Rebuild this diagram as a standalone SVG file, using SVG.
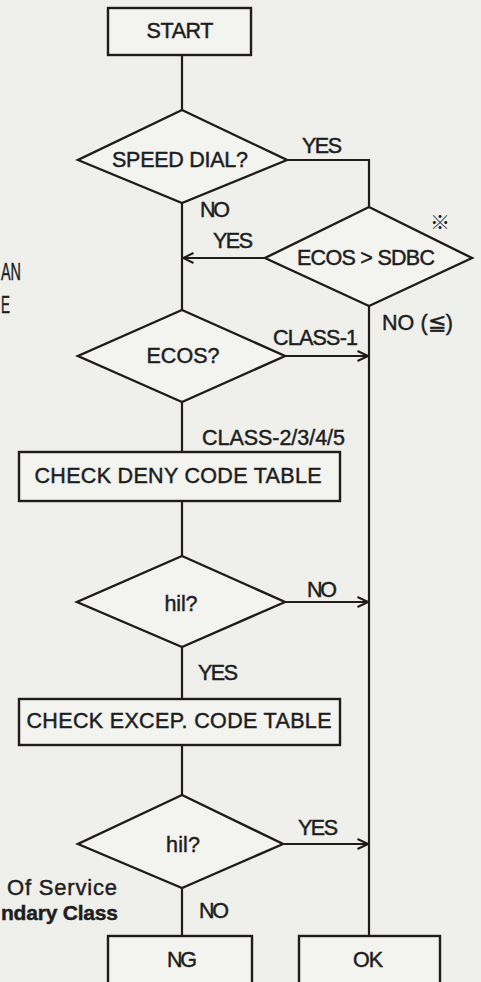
<svg xmlns="http://www.w3.org/2000/svg" width="481" height="982" viewBox="0 0 481 982">
<style>
.bg{fill:#efefeb}
.sh{fill:#f3f3f0;stroke:#1f1c1a;stroke-width:2.4;stroke-linejoin:miter}
.ln{fill:none;stroke:#1f1c1a;stroke-width:2.2}
.t{font-family:"Liberation Sans",Arial,sans-serif;font-size:21.5px;fill:#1e1e1e;stroke:#1e1e1e;stroke-width:0.45;text-anchor:middle}
.l{font-family:"Liberation Sans",Arial,sans-serif;font-size:21.5px;fill:#1e1e1e;stroke:#1e1e1e;stroke-width:0.45}
</style>
<defs>
<marker id="ah" viewBox="0 0 12 12" refX="11.5" refY="6" markerWidth="12" markerHeight="12" markerUnits="userSpaceOnUse" orient="auto">
<path d="M1,1 L11.5,6 L1,11" fill="none" stroke="#1f1c1a" stroke-width="2"/>
</marker>
</defs>
<rect class="bg" x="0" y="0" width="481" height="982"/>

<g id="connectors">
<path class="ln" d="M182,55 V110"/>
<path class="ln" d="M287,160 H369 V207"/>
<path class="ln" d="M265,258 H183" marker-end="url(#ah)"/>
<path class="ln" d="M182,203 V310"/>
<path class="ln" d="M369,306 V936"/>
<path class="ln" d="M285,356 H368" marker-end="url(#ah)"/>
<path class="ln" d="M182,402 V452"/>
<path class="ln" d="M182,501 V556"/>
<path class="ln" d="M285,602 H368" marker-end="url(#ah)"/>
<path class="ln" d="M182,647 V699"/>
<path class="ln" d="M182,745 V795"/>
<path class="ln" d="M283,844 H368" marker-end="url(#ah)"/>
<path class="ln" d="M182,888 V936"/>
<text class="l" x="302" y="153" textLength="40">YES</text>
<text class="l" x="200" y="217" textLength="30">NO</text>
<text class="l" x="213" y="248" textLength="40">YES</text>
<text class="l" x="382" y="330" textLength="71">NO (≦)</text>
<text class="l" x="273" y="345" textLength="85">CLASS-1</text>
<text class="l" x="202" y="445" textLength="143">CLASS-2/3/4/5</text>
<text class="l" x="307" y="597" textLength="30">NO</text>
<text class="l" x="198" y="680" textLength="40">YES</text>
<text class="l" x="298" y="835" textLength="40">YES</text>
<text class="l" x="199" y="918" textLength="30">NO</text>
</g>

<g id="start">
<rect class="sh" x="108" y="8" width="143" height="47"/>
<text class="t" x="180" y="38" textLength="67">START</text>
</g>

<g id="speed-dial">
<polygon class="sh" points="182,110 287,160 182,203 78,160"/>
<text class="t" x="180" y="167" textLength="136">SPEED DIAL?</text>
</g>

<g id="ecos-sdbc">
<polygon class="sh" points="369,207 472,258 369,306 265,258"/>
<text class="t" x="366" y="265" textLength="138">ECOS &gt; SDBC</text>
<text x="440" y="230" style="font-family:'Noto Sans CJK JP','Noto Sans CJK SC',sans-serif;font-size:20px;font-weight:bold;fill:#1e1e1e;text-anchor:middle">※</text>
</g>

<g id="ecos">
<polygon class="sh" points="182,310 285,356 182,402 78,356"/>
<text class="t" x="183" y="363" textLength="73">ECOS?</text>
</g>

<g id="check-deny">
<rect class="sh" x="19" y="452" width="321" height="49"/>
<text class="t" x="178" y="483" textLength="287">CHECK DENY CODE TABLE</text>
</g>

<g id="hit1">
<polygon class="sh" points="182,556 285,602 182,647 77,602"/>
<text class="t" x="181" y="611" textLength="33">hil?</text>
</g>

<g id="check-excep">
<rect class="sh" x="19" y="699" width="321" height="46"/>
<text class="t" x="179" y="728" textLength="305">CHECK EXCEP. CODE TABLE</text>
</g>

<g id="hit2">
<polygon class="sh" points="182,795 283,844 182,888 78,844"/>
<text class="t" x="183" y="852" textLength="34">hil?</text>
</g>

<g id="ng">
<rect class="sh" x="108" y="936" width="144" height="60"/>
<text class="t" x="182" y="967" textLength="30">NG</text>
</g>

<g id="ok">
<rect class="sh" x="299" y="936" width="141" height="60"/>
<text class="t" x="368" y="967" textLength="30">OK</text>
</g>

<g id="margin-notes">
<text class="l" x="1" y="280" style="font-size:24px" textLength="20" lengthAdjust="spacingAndGlyphs">AN</text>
<text class="l" x="1" y="313" style="font-size:24px" textLength="9" lengthAdjust="spacingAndGlyphs">E</text>
<text class="l" x="7" y="895" style="font-size:22px" textLength="110">Of Service</text>
<text class="l" x="1" y="920" style="font-size:21px;font-weight:bold" textLength="117">ndary Class</text>
</g>
</svg>
